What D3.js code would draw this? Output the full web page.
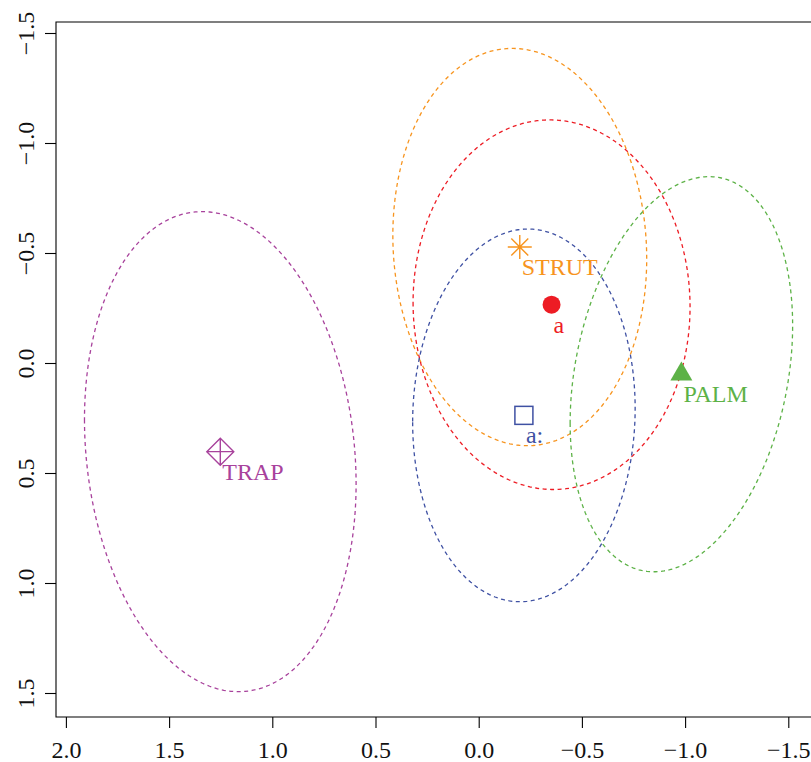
<!DOCTYPE html>
<html>
<head>
<meta charset="utf-8">
<script src="https://cdn.jsdelivr.net/npm/d3@7"></script>
<style>
  html, body { margin: 0; padding: 0; background: #fff; }
  svg { display: block; }
</style>
</head>
<body>
<svg id="chart" width="811" height="762"></svg>
<script>
// ---- data ----
const groups = ["STRUT", "a", "a:", "PALM", "TRAP"];
const centerX = [-0.199, -0.353, -0.219, -0.982, 1.252];
const centerY = [-0.527, -0.265, 0.238, 0.051, 0.403];
const spreadX = [0.615, 0.671, 0.539, 0.539, 0.658];
const spreadY = [0.903, 0.840, 0.847, 0.898, 1.091];
const tilt = [-0.059, -0.012, 0.037, 0.247, -0.134];
const colors = ["#F7941E", "#ED1C24", "#3F51A3", "#5DB247", "#A8429C"];
const shapes = ["asterisk", "circle", "square", "triangle", "diamondplus"];
const xTicks = [2.0, 1.5, 1.0, 0.5, 0.0, -0.5, -1.0, -1.5];
const yTicks = [-1.5, -1.0, -0.5, 0.0, 0.5, 1.0, 1.5];

// ---- pick a Times-like font that is really installed ----
function pickFont() {
  const cands = ["Liberation Serif", "Times New Roman", "Tinos", "Nimbus Roman", "Nimbus Roman No9 L", "FreeSerif", "DejaVu Serif"];
  const ctx = document.createElement("canvas").getContext("2d");
  const probe = "STRUT PALM TRAP 0123456789 abc";
  ctx.font = "40px monospace"; const wm = ctx.measureText(probe).width;
  ctx.font = "40px sans-serif"; const ws = ctx.measureText(probe).width;
  for (const f of cands) {
    ctx.font = `40px "${f}", monospace`; const a = ctx.measureText(probe).width;
    ctx.font = `40px "${f}", sans-serif`; const b = ctx.measureText(probe).width;
    if (Math.abs(a - wm) > 0.5 || Math.abs(b - ws) > 0.5) return `"${f}", serif`;
  }
  return "serif";
}
const FONT = pickFont();

// ---- layout ----
const svg = d3.select("#chart");
const frame = { left: 56, top: 22, bottom: 717 };
const x = d3.scaleLinear().domain([2.0, -1.5]).range([65.9, 788.3]);
const y = d3.scaleLinear().domain([-1.5, 1.5]).range([33, 693]);
const fmt = d3.format(".1f");

// frame (right side falls outside the window)
svg.append("path")
  .attr("d", `M830,${frame.top}H${frame.left}V${frame.bottom}H830`)
  .attr("fill", "none").attr("stroke", "#000").attr("stroke-width", 1.1);

// y axis
const gy = svg.append("g").attr("transform", `translate(${frame.left},0)`)
  .call(d3.axisLeft(y).tickValues(yTicks).tickSize(11).tickFormat(fmt));
gy.select(".domain").remove();
gy.selectAll(".tick line").attr("stroke", "#000").attr("stroke-width", 1.1);
gy.selectAll(".tick text")
  .attr("x", null).attr("dy", null).attr("y", null)
  .attr("text-anchor", "middle")
  .attr("transform", `translate(${34 - frame.left},0) rotate(-90)`)
  .style("font-family", FONT)
  .attr("font-size", 24).attr("fill", "#111");

// x axis
const gx = svg.append("g").attr("transform", `translate(0,${frame.bottom})`)
  .call(d3.axisBottom(x).tickValues(xTicks).tickSize(11).tickFormat(fmt));
gx.select(".domain").remove();
gx.selectAll(".tick line").attr("stroke", "#000").attr("stroke-width", 1.1);
gx.selectAll(".tick text")
  .attr("dy", null).attr("y", 41)
  .style("font-family", FONT)
  .attr("font-size", 24).attr("fill", "#111");

// ellipses
const nSeg = 240;
const ts = d3.range(nSeg).map(i => i / nSeg * 2 * Math.PI);
const line = d3.line().x(d => x(d[0])).y(d => y(d[1])).curve(d3.curveLinearClosed);
groups.forEach((g, i) => {
  const s = Math.sqrt(1 - tilt[i] * tilt[i]);
  const pts = ts.map(t => [
    centerX[i] + spreadX[i] * Math.cos(t),
    centerY[i] + spreadY[i] * (tilt[i] * Math.cos(t) + s * Math.sin(t))
  ]);
  svg.append("path").attr("d", line(pts))
    .attr("fill", "none").attr("stroke", colors[i])
    .attr("stroke-width", 1.3).attr("stroke-dasharray", "4,3.5");
});

// markers
groups.forEach((g, i) => {
  const px = x(centerX[i]), py = y(centerY[i]);
  const c = colors[i];
  const m = svg.append("g").attr("transform", `translate(${px},${py})`);
  if (shapes[i] === "asterisk") {
    const a = 12, b = a / Math.SQRT2;
    m.append("path").attr("d", `M${-a},0H${a}M0,${-a}V${a}M${-b},${-b}L${b},${b}M${-b},${b}L${b},${-b}`)
      .attr("stroke", c).attr("stroke-width", 1.4).attr("fill", "none");
  } else if (shapes[i] === "circle") {
    m.append("circle").attr("r", 9).attr("fill", c);
  } else if (shapes[i] === "square") {
    m.append("rect").attr("x", -9).attr("y", -9).attr("width", 18).attr("height", 18)
      .attr("fill", "none").attr("stroke", c).attr("stroke-width", 1.5);
  } else if (shapes[i] === "triangle") {
    const r = 12.7, hw = 11;
    m.append("path").attr("d", `M0,${-r}L${hw},${r / 2}L${-hw},${r / 2}Z`).attr("fill", c);
  } else if (shapes[i] === "diamondplus") {
    const d = 13.5;
    m.append("path").attr("d", `M0,${-d}L${d},0L0,${d}L${-d},0ZM${-d},0H${d}M0,${-d}V${d}`)
      .attr("fill", "none").attr("stroke", c).attr("stroke-width", 1.4);
  }
  svg.append("text")
    .attr("x", px + 2).attr("y", py + 28)
    .style("font-family", FONT)
    .attr("font-size", 24).attr("fill", c)
    .text(g);
});
</script>
</body>
</html>
